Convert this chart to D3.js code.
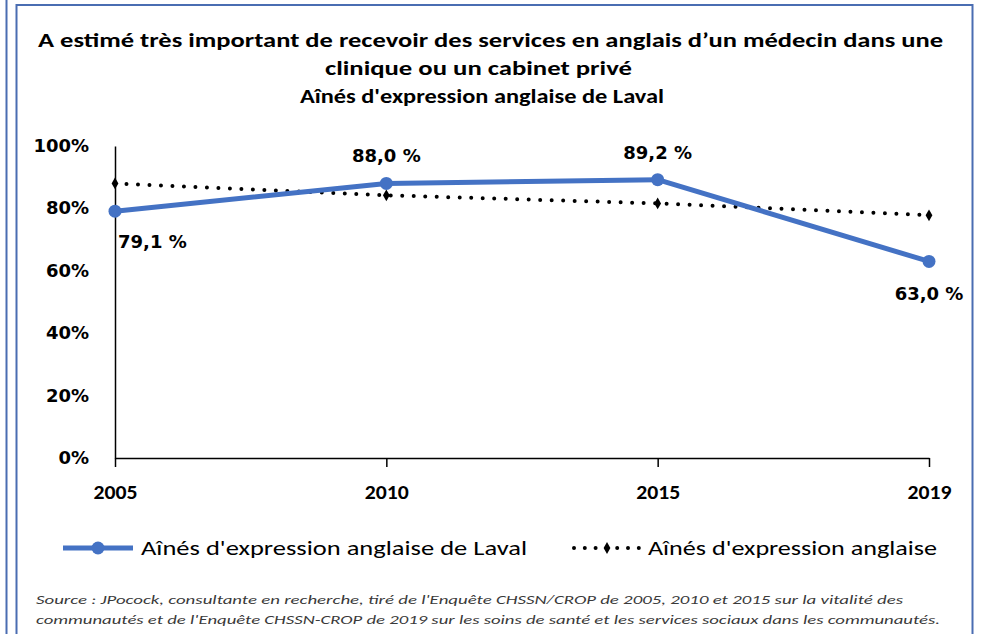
<!DOCTYPE html>
<html>
<head>
<meta charset="utf-8">
<script src="https://cdn.jsdelivr.net/npm/d3@7"></script>
<style>
  body { margin: 0; background: #fff; }
  svg { display: block; }
  .title { font-family: Carlito, Lato, "Liberation Sans", sans-serif; font-weight: bold; font-size: 21px; fill: #000; }
  .tick text, .valLabel { font-family: "DejaVu Sans", Verdana, sans-serif; font-weight: bold; font-size: 18px; fill: #000; }
  .xAxis .tick text { font-family: Carlito, Lato, "Liberation Sans", sans-serif; font-size: 20px; }
  .legendText { font-family: Carlito, Lato, "Liberation Sans", sans-serif; font-size: 20px; fill: #000; }
  .source { font-family: Carlito, Lato, "Liberation Sans", sans-serif; font-style: italic; font-size: 12px; fill: #3a3a3a; }
</style>
</head>
<body>
<div id="chart"></div>
<script>
var years = ["2005", "2010", "2015", "2019"]
var laval = [79.1, 88.0, 89.2, 63.0]
var allSeniors = [88.0, 84.2, 81.6, 77.8]
var yTicks = [0, 20, 40, 60, 80, 100]
var lavalLabels = ["79,1 %", "88,0 %", "89,2 %", "63,0 %"]
var labelSpots = ["belowRight", "above", "above", "below"]

var titleLines = [
  "A estimé très important de recevoir des services en anglais  d\u2019un médecin dans une",
  "clinique  ou un cabinet privé",
  "Aînés d'expression anglaise  de Laval"
]
var seriesNames = ["Aînés d'expression anglaise de Laval", "Aînés d'expression anglaise"]
var sourceLines = [
  "Source : JPocock, consultante en recherche, tiré de l'Enquête CHSSN/CROP de 2005, 2010 et 2015 sur la vitalité des",
  "communautés et de l'Enquête CHSSN-CROP de 2019 sur les soins de santé et les services sociaux dans les communautés."
]

var width = 983, height = 634
var BLUE = "#4472c4"
var FRAME = "#4a6db2"

var svg = d3.select("#chart").append("svg")
  .attr("width", width)
  .attr("height", height)

// frames (left edge of previous panel + chart border)
svg.append("line")
  .attr("x1", 6.5).attr("x2", 6.5).attr("y1", 0).attr("y2", height)
  .attr("stroke", FRAME).attr("stroke-width", 2)
svg.append("rect")
  .attr("x", 16.5).attr("y", 5)
  .attr("width", 956).attr("height", height + 10)
  .attr("fill", "none").attr("stroke", FRAME).attr("stroke-width", 2)

// title
var titleW = [905, 307, 364]
var titleY = [47, 75, 103]
svg.selectAll(".title")
  .data(titleLines)
  .enter().append("text")
  .attr("class", "title")
  .attr("x", function(d, i){ return i == 0 ? 38 : (i == 1 ? 325 : 300) })
  .attr("y", function(d, i){ return titleY[i] })
  .attr("textLength", function(d, i){ return titleW[i] })
  .attr("lengthAdjust", "spacingAndGlyphs")
  .text(function(d){ return d })

var x = d3.scalePoint().domain(years).range([115, 929])
var y = d3.scaleLinear().domain([0, 100]).range([458, 146])

var yAxis = svg.append("g")
  .attr("class", "yAxis")
  .attr("transform", "translate(115,0)")
  .call(d3.axisLeft(y).tickValues(yTicks).tickSize(0).tickPadding(26)
    .tickFormat(function(d){ return d + "%" }))
yAxis.select(".domain").attr("stroke", "#000").attr("stroke-width", 1.5)
yAxis.selectAll(".tick text").attr("dy", "0.3em")

var xAxis = svg.append("g")
  .attr("class", "xAxis")
  .attr("transform", "translate(0," + y(0) + ")")
  .call(d3.axisBottom(x).tickSizeInner(9).tickSizeOuter(0).tickPadding(18))
xAxis.select(".domain").attr("stroke", "#000").attr("stroke-width", 1.5)
xAxis.selectAll(".tick line").attr("stroke", "#000").attr("stroke-width", 1.5)
xAxis.selectAll(".tick text")
  .attr("textLength", 44)
  .attr("lengthAdjust", "spacingAndGlyphs")

var line = d3.line()
  .x(function(d, i){ return x(years[i]) })
  .y(function(d){ return y(d) })

// dotted overall series
svg.append("path")
  .datum(allSeniors)
  .attr("d", line)
  .attr("fill", "none")
  .attr("stroke", "#000")
  .attr("stroke-width", 4)
  .attr("stroke-linecap", "round")
  .attr("stroke-dasharray", "0 11.5")

var diamond = d3.symbol().type(d3.symbolDiamond).size(40)
svg.selectAll(".allMark")
  .data(allSeniors)
  .enter().append("path")
  .attr("class", "allMark")
  .attr("d", diamond)
  .attr("transform", function(d, i){ return "translate(" + x(years[i]) + "," + y(d) + ")" })
  .attr("fill", "#000")

// Laval series
svg.append("path")
  .datum(laval)
  .attr("d", line)
  .attr("fill", "none")
  .attr("stroke", BLUE)
  .attr("stroke-width", 5)
  .attr("stroke-linejoin", "round")

svg.selectAll(".lavalMark")
  .data(laval)
  .enter().append("circle")
  .attr("class", "lavalMark")
  .attr("cx", function(d, i){ return x(years[i]) })
  .attr("cy", function(d){ return y(d) })
  .attr("r", 6.5)
  .attr("fill", BLUE)

svg.selectAll(".valLabel")
  .data(laval)
  .enter().append("text")
  .attr("class", "valLabel")
  .attr("x", function(d, i){ return labelSpots[i] == "belowRight" ? x(years[i]) + 3 : x(years[i]) })
  .attr("y", function(d, i){
    var s = labelSpots[i]
    return s == "above" ? y(d) - 21 : (s == "below" ? y(d) + 39 : y(d) + 37)
  })
  .attr("text-anchor", function(d, i){ return labelSpots[i] == "belowRight" ? "start" : "middle" })
  .text(function(d, i){ return lavalLabels[i] })

// legend
var leg = svg.append("g").attr("transform", "translate(0,548)")
leg.append("line")
  .attr("x1", 63).attr("x2", 133).attr("y1", 0).attr("y2", 0)
  .attr("stroke", BLUE).attr("stroke-width", 5)
leg.append("circle").attr("cx", 98).attr("cy", 0).attr("r", 6.5).attr("fill", BLUE)
leg.append("line")
  .attr("x1", 574).attr("x2", 640).attr("y1", 0).attr("y2", 0)
  .attr("stroke", "#000").attr("stroke-width", 4)
  .attr("stroke-linecap", "round").attr("stroke-dasharray", "0 10.8")
leg.append("path").attr("d", diamond).attr("transform", "translate(607,0)").attr("fill", "#000")

var legX = [141, 648], legW = [386, 289]
leg.selectAll(".legendText")
  .data(seriesNames)
  .enter().append("text")
  .attr("class", "legendText")
  .attr("x", function(d, i){ return legX[i] })
  .attr("y", 7)
  .attr("textLength", function(d, i){ return legW[i] })
  .attr("lengthAdjust", "spacingAndGlyphs")
  .text(function(d){ return d })

// source
var srcW = [867, 904]
svg.selectAll(".source")
  .data(sourceLines)
  .enter().append("text")
  .attr("class", "source")
  .attr("x", 36)
  .attr("y", function(d, i){ return 604 + i * 20 })
  .attr("textLength", function(d, i){ return srcW[i] })
  .attr("lengthAdjust", "spacingAndGlyphs")
  .text(function(d){ return d })
</script>
</body>
</html>
